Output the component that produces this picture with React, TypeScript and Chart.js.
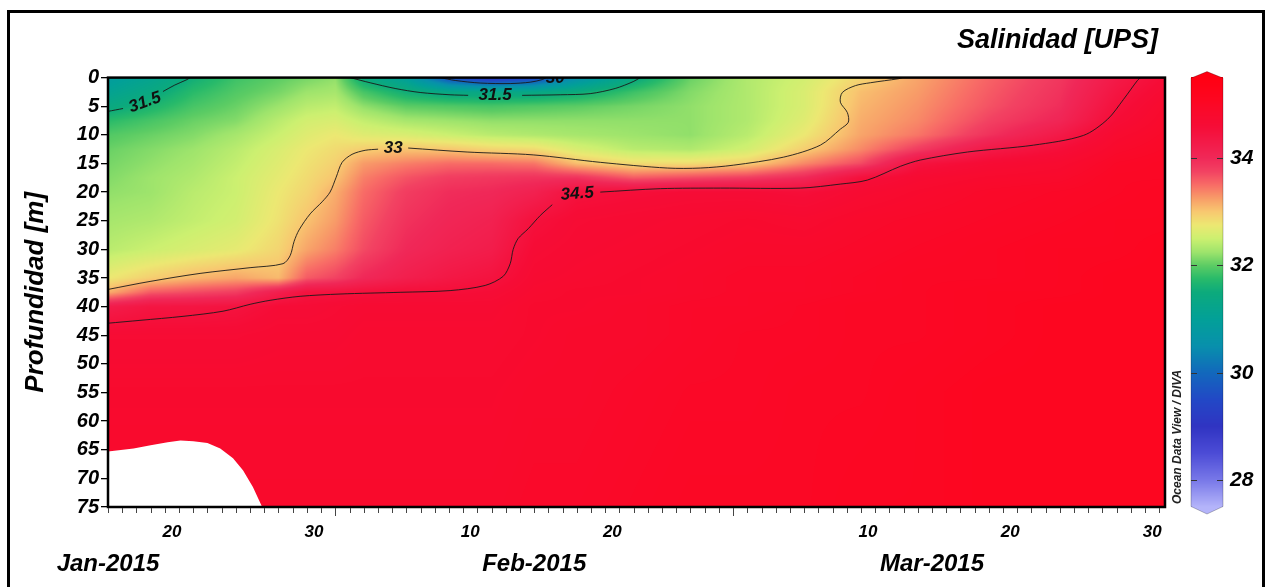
import React, { useEffect, useRef } from "react";
import { Chart, registerables } from "chart.js";

Chart.register(...registerables);

const FONT = "'Liberation Sans', Arial, Helvetica, sans-serif";

// ---------- axes / labels ----------
const dayMin = 15; // days since 1 Jan 2015 00:00 (15 = 16 Jan)
const dayMax = 89.4;
const depthMin = 0;
const depthMax = 75;
const dayLabelValues = [19.5, 29.5, 40.5, 50.5, 68.5, 78.5, 88.5];
const dayLabelTexts = ["20", "30", "10", "20", "10", "20", "30"];
const monthStartValues = [31, 59];
const monthLabelValues = [15, 45, 73];
const monthLabelTexts = ["Jan-2015", "Feb-2015", "Mar-2015"];
const salMin = 27.5;
const salMax = 35.5;
const cbTickValues = [28, 30, 32, 34];

// ---------- gridded salinity ----------
const gridDays = [15, 18, 21, 24, 27, 29, 31, 33, 36, 39, 42, 45, 48, 52, 56, 60, 64, 68, 72, 77, 82, 86, 89.4];
const gridDepths = [0, 2.5, 5, 7.5, 10, 12.5, 15, 17.5, 20, 25, 30, 35, 37.5, 40, 45, 55, 75];

const sal15 = [30.85, 31.1, 31.4, 31.75, 31.95, 32.05, 32.1, 32.15, 32.2, 32.3, 32.4, 32.75, 33.15, 34.25, 34.65, 34.8, 34.85];
const sal18 = [31.15, 31.4, 31.65, 31.9, 32.05, 32.15, 32.2, 32.25, 32.25, 32.35, 32.5, 32.95, 33.6, 34.4, 34.65, 34.8, 34.85];
const sal21 = [31.55, 31.75, 31.9, 32.05, 32.15, 32.25, 32.3, 32.35, 32.4, 32.45, 32.6, 33.1, 33.7, 34.4, 34.65, 34.8, 34.85];
const sal24 = [31.85, 31.95, 32.05, 32.15, 32.3, 32.4, 32.45, 32.5, 32.5, 32.55, 32.7, 33.2, 33.8, 34.45, 34.65, 34.8, 34.85];
const sal27 = [32.0, 32.1, 32.25, 32.4, 32.5, 32.6, 32.65, 32.7, 32.75, 32.8, 32.9, 33.08, 34.2, 34.6, 34.7, 34.8, 34.85];
const sal29 = [32.1, 32.25, 32.4, 32.55, 32.65, 32.75, 32.8, 32.85, 32.9, 33.03, 33.2, 33.6, 34.45, 34.6, 34.7, 34.8, 34.85];
const sal31 = [32.2, 32.3, 32.45, 32.6, 32.75, 32.85, 32.93, 33.02, 33.15, 33.25, 33.4, 33.75, 34.45, 34.65, 34.7, 34.8, 34.85];
const sal33 = [31.45, 31.9, 32.2, 32.45, 32.65, 32.95, 33.25, 33.4, 33.5, 33.6, 33.7, 34.0, 34.5, 34.7, 34.75, 34.8, 34.85];
const sal36 = [30.95, 31.55, 32.0, 32.3, 32.6, 33.02, 33.4, 33.65, 33.8, 33.9, 34.0, 34.2, 34.55, 34.7, 34.75, 34.8, 34.85];
const sal39 = [29.6, 31.35, 31.95, 32.25, 32.5, 33.0, 33.5, 33.8, 33.95, 34.05, 34.15, 34.35, 34.55, 34.7, 34.75, 34.8, 34.85];
const sal42 = [29.0, 31.35, 31.9, 32.2, 32.4, 32.9, 33.5, 33.85, 34.0, 34.15, 34.25, 34.45, 34.6, 34.7, 34.75, 34.8, 34.85];
const sal45 = [29.4, 31.35, 31.95, 32.2, 32.35, 32.85, 33.45, 33.9, 34.15, 34.5, 34.62, 34.7, 34.75, 34.8, 34.8, 34.85, 34.9];
const sal48 = [30.5, 31.5, 32.0, 32.2, 32.3, 32.6, 33.05, 33.9, 34.48, 34.65, 34.7, 34.75, 34.8, 34.8, 34.85, 34.85, 34.9];
const sal52 = [31.4, 31.85, 32.1, 32.2, 32.25, 32.4, 32.85, 33.6, 34.55, 34.7, 34.75, 34.8, 34.8, 34.85, 34.85, 34.9, 34.95];
const sal56 = [32.05, 32.15, 32.2, 32.2, 32.2, 32.35, 32.85, 33.7, 34.6, 34.75, 34.8, 34.85, 34.85, 34.9, 34.9, 34.95, 35.0];
const sal60 = [32.35, 32.35, 32.35, 32.35, 32.4, 32.55, 32.95, 33.8, 34.6, 34.8, 34.85, 34.9, 34.9, 34.9, 34.95, 34.95, 35.0];
const sal64 = [32.55, 32.6, 32.6, 32.65, 32.75, 32.95, 33.35, 34.0, 34.55, 34.75, 34.85, 34.9, 34.9, 34.95, 34.95, 35.0, 35.0];
const sal68 = [32.9, 33.05, 33.1, 33.15, 33.2, 33.35, 33.7, 34.5, 34.7, 34.85, 34.9, 34.95, 34.95, 35.0, 35.0, 35.0, 35.05];
const sal72 = [33.2, 33.25, 33.3, 33.35, 33.45, 33.8, 34.45, 34.7, 34.8, 34.9, 34.95, 35.0, 35.0, 35.0, 35.0, 35.05, 35.05];
const sal77 = [33.55, 33.6, 33.65, 33.75, 33.9, 34.3, 34.65, 34.8, 34.9, 34.95, 35.0, 35.0, 35.05, 35.05, 35.05, 35.1, 35.1];
const sal82 = [33.85, 33.9, 33.95, 34.05, 34.3, 34.55, 34.75, 34.85, 34.95, 35.0, 35.05, 35.05, 35.05, 35.1, 35.1, 35.1, 35.1];
const sal86 = [34.3, 34.4, 34.5, 34.6, 34.75, 34.85, 34.95, 35.0, 35.0, 35.05, 35.05, 35.1, 35.1, 35.1, 35.1, 35.1, 35.1];
const sal89 = [34.6, 34.7, 34.8, 34.85, 34.9, 34.95, 35.0, 35.0, 35.05, 35.05, 35.1, 35.1, 35.1, 35.1, 35.1, 35.1, 35.1];

const salinityProfiles = [sal15, sal18, sal21, sal24, sal27, sal29, sal31, sal33, sal36, sal39, sal42, sal45, sal48, sal52, sal56, sal60, sal64, sal68, sal72, sal77, sal82, sal86, sal89];

// ---------- no-data mask (bottom left) ----------
const maskDays = [15, 16.8, 18, 19.2, 20.1, 21, 22, 22.9, 23.8, 24.5, 25.2, 25.85];
const maskDepths = [65.3, 64.8, 64.2, 63.7, 63.4, 63.5, 63.8, 64.8, 66.5, 68.6, 71.5, 75];

// ---------- contour lines ----------
const c33aDays = [15, 17.96, 21.48, 25.0, 27.32, 27.82, 28.1, 28.45, 29.23, 30.07, 30.63, 31.06, 31.48, 32.18, 33.1, 34.01];
const c33aDepths = [37.0, 35.6, 34.2, 33.2, 32.5, 31.1, 28.6, 26.6, 23.8, 21.7, 20.0, 17.4, 14.8, 13.4, 12.7, 12.5];
const c33bDays = [36.13, 40.28, 44.93, 49.65, 54.37, 56.69, 59.01, 62.54, 65.14, 66.55, 67.11, 67.04, 66.55, 66.69, 67.61, 68.66, 70.63, 70.92];
const c33bDepths = [12.3, 13.0, 13.5, 14.8, 15.8, 15.8, 15.3, 13.9, 11.8, 9.0, 7.8, 6.1, 4.3, 2.6, 1.4, 0.9, 0.2, 0];
const c345aDays = [15, 17.25, 20.28, 23.1, 25.0, 26.41, 28.52, 31.34, 35.56, 39.08, 41.55, 42.82, 43.31, 43.52, 43.87, 44.58, 45.42, 46.27];
const c345aDepths = [42.9, 42.4, 41.7, 40.8, 39.6, 38.9, 38.2, 37.8, 37.5, 37.2, 36.3, 34.7, 32.5, 30.0, 28.1, 26.4, 24.1, 22.2];
const c345bDays = [49.65, 53.87, 58.1, 63.73, 66.55, 68.45, 70.77, 72.18, 75.49, 80.14, 83.66, 85.35, 86.48, 87.46, 87.68];
const c345bDepths = [20.0, 19.4, 19.3, 19.3, 18.6, 17.9, 15.5, 14.4, 13.0, 11.8, 10.1, 7.3, 3.8, 0.5, 0];
const c315aDays = [15, 16.06];
const c315aDepths = [5.9, 5.4];
const c315bDays = [18.87, 19.7, 20.56, 20.77];
const c315bDepths = [2.43, 1.3, 0.35, 0];
const c315cDays = [32.04, 33.45, 35.21, 36.97, 39.08, 40.35];
const c315cDepths = [0, 0.9, 1.9, 2.6, 3.0, 3.1];
const c315dDays = [44.15, 46.83, 48.94, 50.7, 51.97, 52.46];
const c315dDepths = [3.1, 3.0, 2.8, 1.9, 0.7, 0];
const c30Days = [38.38, 39.44, 41.2, 43.31, 44.72, 45.56, 45.85];
const c30Depths = [0, 0.5, 0.95, 1.04, 0.8, 0.35, 0];

const contourLabelTexts = ["31.5", "33", "31.5", "34.5", "30"];
const contourLabelDays = [17.6, 35.07, 42.25, 48.03, 46.48];
const contourLabelDepths = [4.34, 12.33, 3.13, 20.3, 0.17];
const contourLabelAngles = [-20, 0, 0, -4, 0];

// ---------- colour map ----------
const STOPS: [number, string][] = [
  [27.5, "#b4b4fa"], [28.0, "#7878e8"], [28.5, "#4c4cd6"], [29.0, "#3034c2"],
  [29.5, "#2248c6"], [30.0, "#1268bc"], [30.5, "#0890ac"], [31.0, "#02a098"],
  [31.5, "#0caa7c"], [31.75, "#28ba6a"], [32.0, "#5ccc64"], [32.25, "#9ee46c"],
  [32.5, "#ccf070"], [32.75, "#ece872"], [33.0, "#f8c870"], [33.25, "#f89c68"],
  [33.5, "#f86c66"], [33.75, "#f24262"], [34.0, "#f02858"], [34.3, "#f31a48"],
  [34.6, "#f60c36"], [34.85, "#f90a2c"], [35.1, "#fd0620"], [35.5, "#ff0012"],
];
const hex = (h: string) => [parseInt(h.slice(1, 3), 16), parseInt(h.slice(3, 5), 16), parseInt(h.slice(5, 7), 16)];
const STOPS_RGB = STOPS.map(([v, c]) => [v, ...hex(c)]);
function colorAt(v: number): number[] {
  if (v <= STOPS_RGB[0][0]) return STOPS_RGB[0].slice(1);
  for (let i = 1; i < STOPS_RGB.length; i++) {
    const b = STOPS_RGB[i];
    if (v <= b[0]) {
      const a = STOPS_RGB[i - 1];
      const t = (v - a[0]) / (b[0] - a[0]);
      return [a[1] + (b[1] - a[1]) * t, a[2] + (b[2] - a[2]) * t, a[3] + (b[3] - a[3]) * t];
    }
  }
  return STOPS_RGB[STOPS_RGB.length - 1].slice(1);
}
const rgbStr = (c: number[]) => `rgb(${Math.round(c[0])},${Math.round(c[1])},${Math.round(c[2])})`;

function locate(arr: number[], v: number): [number, number] {
  if (v <= arr[0]) return [0, 0];
  for (let i = 0; i < arr.length - 1; i++) {
    if (v <= arr[i + 1]) return [i, (v - arr[i]) / (arr[i + 1] - arr[i])];
  }
  return [arr.length - 2, 1];
}

const font = (size: number) => ({ family: FONT, size, weight: "bold" as const, style: "italic" as const });
const cssFont = (size: number) => `italic bold ${size}px ${FONT}`;

const heatmapPlugin = {
  id: "heatmap",
  beforeDatasetsDraw(chart: any) {
    const { ctx, chartArea: a, scales } = chart;
    const xs = scales.x, ys = scales.y;
    const w = Math.round(a.right - a.left), h = Math.round(a.bottom - a.top);
    const off = document.createElement("canvas");
    off.width = w; off.height = h;
    const octx = off.getContext("2d")!;
    const img = octx.createImageData(w, h);
    const ci: number[] = [], ct: number[] = [], ri: number[] = [], rt: number[] = [];
    for (let px = 0; px < w; px++) {
      const [i, t] = locate(gridDays, xs.getValueForPixel(a.left + px + 0.5));
      ci.push(i); ct.push(t);
    }
    for (let py = 0; py < h; py++) {
      const [j, t] = locate(gridDepths, ys.getValueForPixel(a.top + py + 0.5));
      ri.push(j); rt.push(t);
    }
    const LUTN = 2048;
    const lut: number[][] = [];
    for (let k = 0; k <= LUTN; k++) lut.push(colorAt(salMin + ((salMax - salMin) * k) / LUTN));
    for (let py = 0; py < h; py++) {
      const j = ri[py], u = rt[py];
      for (let px = 0; px < w; px++) {
        const i = ci[px], t = ct[px];
        const p0 = salinityProfiles[i], p1 = salinityProfiles[i + 1];
        const v0 = p0[j] + (p0[j + 1] - p0[j]) * u;
        const v1 = p1[j] + (p1[j + 1] - p1[j]) * u;
        const v = v0 + (v1 - v0) * t;
        let k = Math.round(((v - salMin) / (salMax - salMin)) * LUTN);
        k = Math.max(0, Math.min(LUTN, k));
        const c = lut[k];
        const o = (py * w + px) * 4;
        img.data[o] = c[0]; img.data[o + 1] = c[1]; img.data[o + 2] = c[2]; img.data[o + 3] = 255;
      }
    }
    octx.putImageData(img, 0, 0);
    ctx.drawImage(off, a.left, a.top);
  },
};

const overlayPlugin = {
  id: "overlay",
  afterDatasetsDraw(chart: any) {
    const { ctx, chartArea: a, scales } = chart;
    const xs = scales.x, ys = scales.y;
    ctx.save();
    ctx.beginPath();
    ctx.rect(a.left, a.top, a.right - a.left, a.bottom - a.top);
    ctx.clip();
    ctx.fillStyle = "#111";
    ctx.font = cssFont(17);
    ctx.textAlign = "center";
    ctx.textBaseline = "middle";
    contourLabelTexts.forEach((txt, i) => {
      ctx.save();
      ctx.translate(xs.getPixelForValue(contourLabelDays[i]), ys.getPixelForValue(contourLabelDepths[i]));
      ctx.rotate((contourLabelAngles[i] * Math.PI) / 180);
      ctx.fillText(txt, 0, 0);
      ctx.restore();
    });
    ctx.restore();
    ctx.save();
    ctx.strokeStyle = "#000";
    ctx.lineWidth = 2.5;
    ctx.strokeRect(a.left, a.top, a.right - a.left, a.bottom - a.top);
    ctx.restore();
  },
  afterDraw(chart: any) {
    const { ctx, chartArea: a, scales } = chart;
    const xs = scales.x, cb = scales.cb;
    ctx.save();
    ctx.strokeStyle = "#000";
    ctx.lineWidth = 3;
    ctx.strokeRect(8.5, 11.5, 1255, 640);
    ctx.fillStyle = "#000";
    ctx.font = cssFont(27);
    ctx.textAlign = "right";
    ctx.textBaseline = "alphabetic";
    ctx.fillText("Salinidad [UPS]", 1158, 48);
    ctx.strokeStyle = "#444";
    ctx.lineWidth = 1;
    ctx.beginPath();
    for (let d = Math.ceil(dayMin); d <= Math.floor(dayMax); d++) {
      const px = Math.round(xs.getPixelForValue(d)) + 0.5;
      const len = monthStartValues.includes(d) ? 8 : 5;
      ctx.moveTo(px, a.bottom + 1);
      ctx.lineTo(px, a.bottom + 1 + len);
    }
    ctx.stroke();
    ctx.fillStyle = "#000";
    ctx.textAlign = "center";
    ctx.font = cssFont(17);
    dayLabelValues.forEach((v, i) => ctx.fillText(dayLabelTexts[i], xs.getPixelForValue(v), a.bottom + 30));
    ctx.font = cssFont(24);
    monthLabelValues.forEach((v, i) => ctx.fillText(monthLabelTexts[i], xs.getPixelForValue(v), a.bottom + 64));
    // colour bar
    const x0 = a.right + 26, x1 = a.right + 58, xm = (x0 + x1) / 2;
    const top = cb.getPixelForValue(salMax), bot = cb.getPixelForValue(salMin);
    for (let py = Math.floor(top); py < Math.ceil(bot); py++) {
      ctx.fillStyle = rgbStr(colorAt(cb.getValueForPixel(py + 0.5)));
      ctx.fillRect(x0, py, x1 - x0, 1);
    }
    ctx.fillStyle = rgbStr(colorAt(salMax));
    ctx.beginPath();
    ctx.moveTo(x0, top + 0.5); ctx.lineTo(xm, top - 6); ctx.lineTo(x1, top + 0.5); ctx.closePath();
    ctx.fill();
    ctx.fillStyle = rgbStr(colorAt(salMin));
    ctx.beginPath();
    ctx.moveTo(x0, bot - 0.5); ctx.lineTo(xm, bot + 7); ctx.lineTo(x1, bot - 0.5); ctx.closePath();
    ctx.fill();
    ctx.strokeStyle = "rgba(0,0,0,0.3)";
    ctx.lineWidth = 0.8;
    ctx.beginPath();
    ctx.moveTo(x0, top + 0.5); ctx.lineTo(xm, top - 6); ctx.lineTo(x1, top + 0.5);
    ctx.lineTo(x1, bot - 0.5); ctx.lineTo(xm, bot + 7); ctx.lineTo(x0, bot - 0.5); ctx.closePath();
    ctx.stroke();
    ctx.strokeStyle = "#333";
    ctx.lineWidth = 1.2;
    ctx.beginPath();
    cb.ticks.forEach((t: any) => {
      const py = Math.round(cb.getPixelForValue(t.value)) + 0.5;
      ctx.moveTo(x0, py); ctx.lineTo(x0 + 6, py);
      ctx.moveTo(x1 - 6, py); ctx.lineTo(x1, py);
    });
    ctx.stroke();
    ctx.translate(a.right + 13, a.bottom - 3);
    ctx.rotate(-Math.PI / 2);
    ctx.fillStyle = "#222";
    ctx.font = cssFont(12);
    ctx.textAlign = "left";
    ctx.textBaseline = "middle";
    ctx.fillText("Ocean Data View / DIVA", 0, 0);
    ctx.restore();
  },
};

const pts = (xs: number[], ys: number[]) => xs.map((x, i) => ({ x, y: ys[i] }));
const contourSet = (xs: number[], ys: number[]) => ({
  type: "line" as const,
  data: pts(xs, ys),
  borderColor: "#1a1a1a",
  borderWidth: 0.9,
  pointRadius: 0,
  tension: 0.3,
  fill: false,
  order: 0,
});

export default function App() {
  const ref = useRef<HTMLCanvasElement>(null);
  useEffect(() => {
    document.body.style.margin = "0";
    document.body.style.overflow = "hidden";
    const chart = new Chart(ref.current!, {
      type: "line",
      data: {
        datasets: [
          {
            type: "line",
            data: pts(maskDays, maskDepths),
            borderWidth: 0,
            borderColor: "rgba(0,0,0,0)",
            backgroundColor: "#ffffff",
            pointRadius: 0,
            tension: 0,
            fill: { value: depthMax },
            order: 10,
          } as any,
          contourSet(c33aDays, c33aDepths),
          contourSet(c33bDays, c33bDepths),
          contourSet(c345aDays, c345aDepths),
          contourSet(c345bDays, c345bDepths),
          contourSet(c315aDays, c315aDepths),
          contourSet(c315bDays, c315bDepths),
          contourSet(c315cDays, c315cDepths),
          contourSet(c315dDays, c315dDepths),
          contourSet(c30Days, c30Depths),
        ],
      },
      options: {
        responsive: false,
        animation: false,
        events: [],
        layout: { padding: { top: 75, left: 0, right: 0, bottom: 0 } },
        plugins: { legend: { display: false }, tooltip: { enabled: false } },
        scales: {
          x: {
            type: "linear",
            min: dayMin,
            max: dayMax,
            ticks: { display: false },
            grid: { display: false },
            border: { display: false },
            afterFit: (s: any) => { s.height = 80; },
          },
          y: {
            type: "linear",
            reverse: true,
            min: depthMin,
            max: depthMax,
            position: "left",
            ticks: { stepSize: 5, autoSkip: false, color: "#000", font: font(20), padding: 2 },
            grid: { display: true, drawOnChartArea: false, drawTicks: true, tickLength: 7, color: "#000", lineWidth: 1.3 },
            border: { display: false },
            title: { display: true, text: "Profundidad [m]", color: "#000", font: font(26), padding: { top: 20, bottom: 0 } },
            afterFit: (s: any) => { s.width = 108; },
          },
          cb: {
            type: "linear",
            position: "right",
            min: salMin,
            max: salMax,
            afterBuildTicks: (s: any) => { s.ticks = cbTickValues.map((v) => ({ value: v })); },
            ticks: { color: "#000", font: font(21), padding: 65 },
            grid: { display: false, drawOnChartArea: false, drawTicks: false, tickLength: 0 },
            border: { display: false },
            afterFit: (s: any) => { s.width = 102; },
          },
        },
      } as any,
      plugins: [heatmapPlugin, overlayPlugin],
    });
    return () => chart.destroy();
  }, []);
  return <canvas ref={ref} width={1267} height={587} style={{ display: "block", width: 1267, height: 587 }} />;
}
